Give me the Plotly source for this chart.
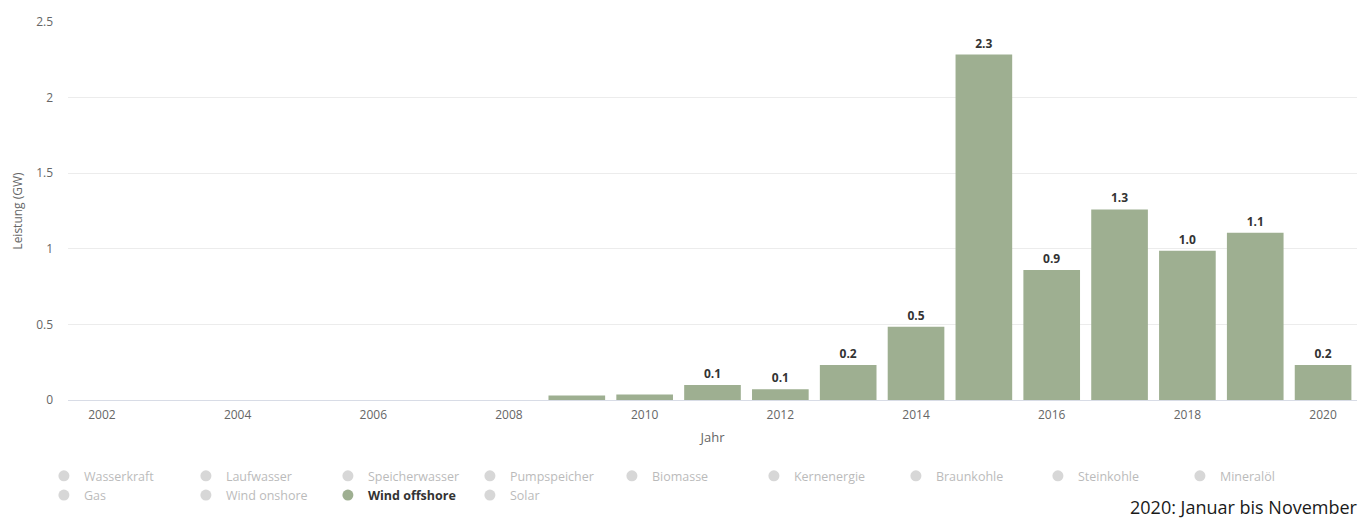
import plotly.graph_objects as go

# Installed wind-offshore capacity additions per year (GW)
years = list(range(2002, 2021))
wind_offshore = [0, 0, 0, 0, 0, 0, 0, 0.029, 0.037, 0.099, 0.071, 0.231,
                 0.485, 2.285, 0.859, 1.26, 0.987, 1.106, 0.231]

# Series shown in the legend (only "Wind offshore" is active)
series_names = ["Wasserkraft", "Laufwasser", "Speicherwasser", "Pumpspeicher",
                "Biomasse", "Kernenergie", "Braunkohle", "Steinkohle",
                "Mineralöl", "Gas", "Wind onshore", "Wind offshore", "Solar"]
active_series = "Wind offshore"

y_ticks = [0, 0.5, 1, 1.5, 2, 2.5]
y_tick_labels = ["0", "0.5", "1", "1.5", "2", "2.5"]
x_ticks = list(range(2002, 2021, 2))

bar_color = "#9eaf91"
font_family = "Open Sans, Lato, sans-serif"

labels = [f"{v:.1f}" if v >= 0.05 else "" for v in wind_offshore]

fig = go.Figure()

fig.add_trace(go.Bar(
    x=years, y=wind_offshore,
    marker=dict(color=bar_color, line=dict(width=0)),
    text=labels, textposition="outside", cliponaxis=False,
    textfont=dict(family=font_family, size=12, color="#333333", weight="bold"),
    showlegend=False, hoverinfo="x+y",
))

# Legend entries (circle markers); inactive series are shown greyed out
for name in series_names:
    if name == active_series:
        fig.add_trace(go.Scatter(
            x=[None], y=[None], mode="markers",
            name=f"<b><span style='color:#333333'>{name}</span></b>",
            marker=dict(symbol="circle", size=11, color=bar_color),
        ))
    else:
        fig.add_trace(go.Scatter(
            x=[None], y=[None], mode="markers", name=name,
            visible="legendonly",
            marker=dict(symbol="circle", size=11, color="#b0b0b0"),
        ))

fig.update_layout(
    width=1372, height=520,
    margin=dict(l=68, r=15, t=22, b=120),
    paper_bgcolor="white", plot_bgcolor="white",
    font=dict(family=font_family, size=12, color="#666666"),
    bargap=0.165,
    xaxis=dict(
        range=[2001.5, 2020.5], tickmode="array", tickvals=x_ticks,
        ticktext=[str(t) for t in x_ticks],
        showgrid=False, zeroline=False, showline=False, ticks="",
        ticklabelstandoff=6,
        tickfont=dict(size=12, color="#666666"),
        title=dict(text="Jahr", font=dict(size=13, color="#666666"), standoff=10),
    ),
    yaxis=dict(
        range=[0, 2.5], tickmode="array", tickvals=y_ticks, ticktext=y_tick_labels,
        showgrid=True, gridcolor="#ececec", gridwidth=1,
        zeroline=True, zerolinecolor="#d8dce6", zerolinewidth=1,
        showline=False, ticks="", ticklabelstandoff=14,
        tickfont=dict(size=12, color="#666666"),
        title=dict(text="Leistung (GW)", font=dict(size=12, color="#666666"), standoff=10),
    ),
    legend=dict(
        orientation="h", xref="container", yref="container",
        x=0.032, y=0.113, xanchor="left", yanchor="top",
        entrywidth=97, entrywidthmode="pixels",
        font=dict(size=12.5, color="#777777"),
        itemclick=False, itemdoubleclick=False,
        tracegroupgap=0, traceorder="normal",
    ),
    annotations=[dict(
        text="2020: Januar bis November", xref="paper", yref="paper",
        x=1.002, y=-0.319, xanchor="right", yanchor="bottom", showarrow=False,
        font=dict(family=font_family, size=18, color="#1a1a1a"),
    )],
)

fig.write_html("out.html")
